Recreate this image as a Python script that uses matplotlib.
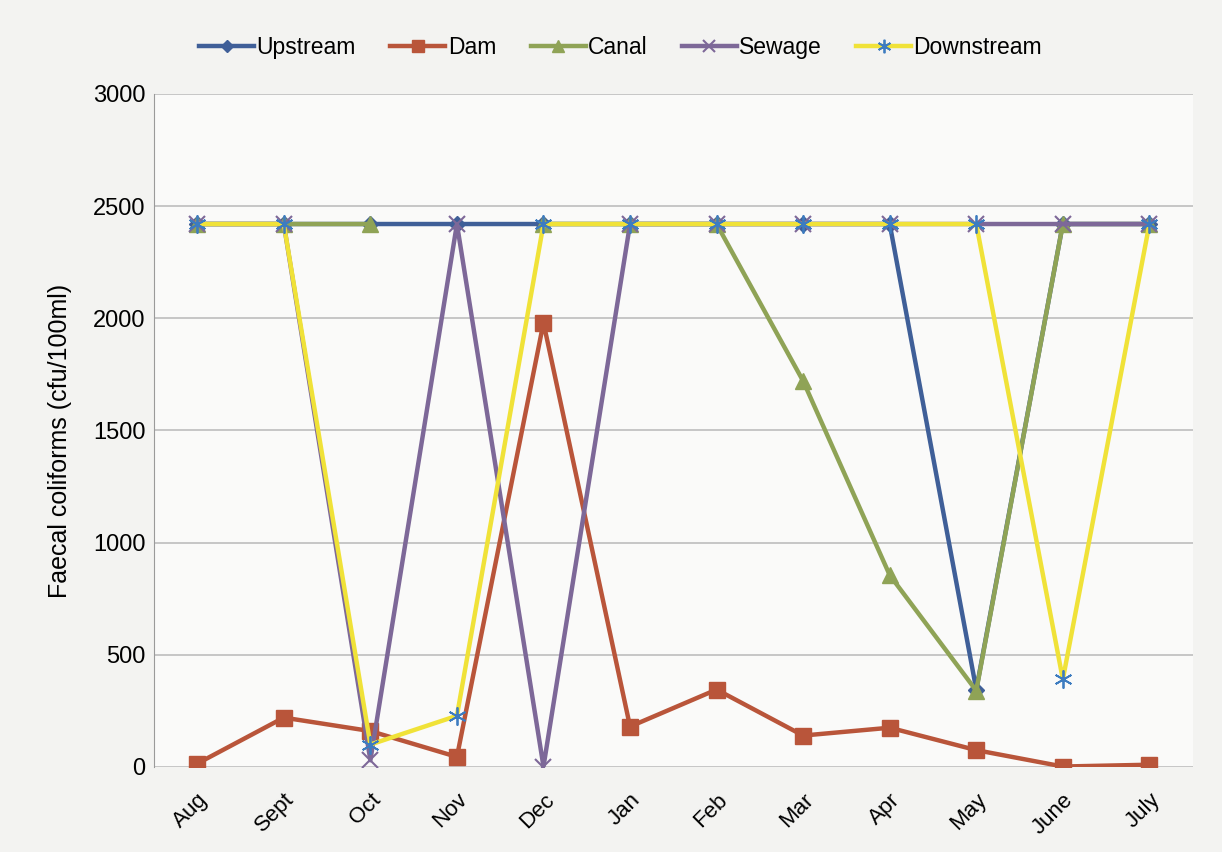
import numpy as np
import matplotlib.pyplot as plt

plt.rcParams['font.family'] = ['Liberation Sans', 'DejaVu Sans']

months = ['Aug', 'Sept', 'Oct', 'Nov', 'Dec', 'Jan', 'Feb', 'Mar', 'Apr', 'May', 'June', 'July']

upstream = [2420, 2420, 2420, 2420, 2420, 2420, 2420, 2420, 2420, 345, 2420, 2420]
dam = [15, 220, 160, 45, 1980, 180, 345, 140, 175, 75, 2, 10]
canal = [2420, 2420, 2420, np.nan, 2420, 2420, 2420, 1720, 855, 340, 2420, 2420]
sewage = [2420, 2420, 30, 2420, 2, 2420, 2420, 2420, 2420, 2420, 2420, 2420]
downstream = [2420, 2420, 100, 228, 2420, 2420, 2420, 2420, 2420, 2420, 390, 2420]

x = np.arange(len(months))

fig = plt.figure(figsize=(12.22, 8.52), dpi=100, facecolor='#f3f3f1')
ax = fig.add_axes([0.126, 0.0998, 0.85, 0.79])
ax.set_facecolor('#fafaf9')

star = (6, 2, 0)
ax.plot(x, upstream, color='#3f5f98', lw=3.2, marker='D', ms=8, label='Upstream')
ax.plot(x, dam, color='#b9553a', lw=3.2, marker='s', ms=12, label='Dam')
ax.plot(x, canal, color='#8fa356', lw=3.2, marker='^', ms=12, label='Canal')
ax.plot(x, sewage, color='#7d6898', lw=3.2, marker='x', ms=12, mew=1.5, label='Sewage')
ax.plot(x, downstream, color='#f0e238', lw=3.2, marker=star, ms=13, mew=1.3,
        mec='#3d7cc0', label='Downstream')

ax.set_xlim(-0.5, 11.5)
ax.set_ylim(0, 3000)
ax.set_yticks(range(0, 3001, 500))
ax.set_xticks(x)
ax.set_xticklabels(months, rotation=45, ha='right', rotation_mode='anchor', fontsize=16)
ax.tick_params(axis='y', labelsize=17, length=0, pad=6)
ax.tick_params(axis='x', length=0, pad=16)
ax.grid(axis='y', color='#bdbdbd', lw=1.2)
ax.set_axisbelow(True)
for s in ['top', 'right', 'bottom']:
    ax.spines[s].set_visible(False)
ax.spines['left'].set_color('#9a9a9a')
ax.set_ylabel('Faecal coliforms (cfu/100ml)', fontsize=18, labelpad=8)
ax.yaxis.set_label_coords(-0.079, 0.485)

leg = fig.legend(loc='upper center', bbox_to_anchor=(0.508, 0.982), ncol=5, frameon=False,
                 fontsize=16.5, handlelength=2.4, columnspacing=1.5, handletextpad=0.1,
                 markerscale=0.75)

fig.savefig('out.png', dpi=100, facecolor=fig.get_facecolor())
